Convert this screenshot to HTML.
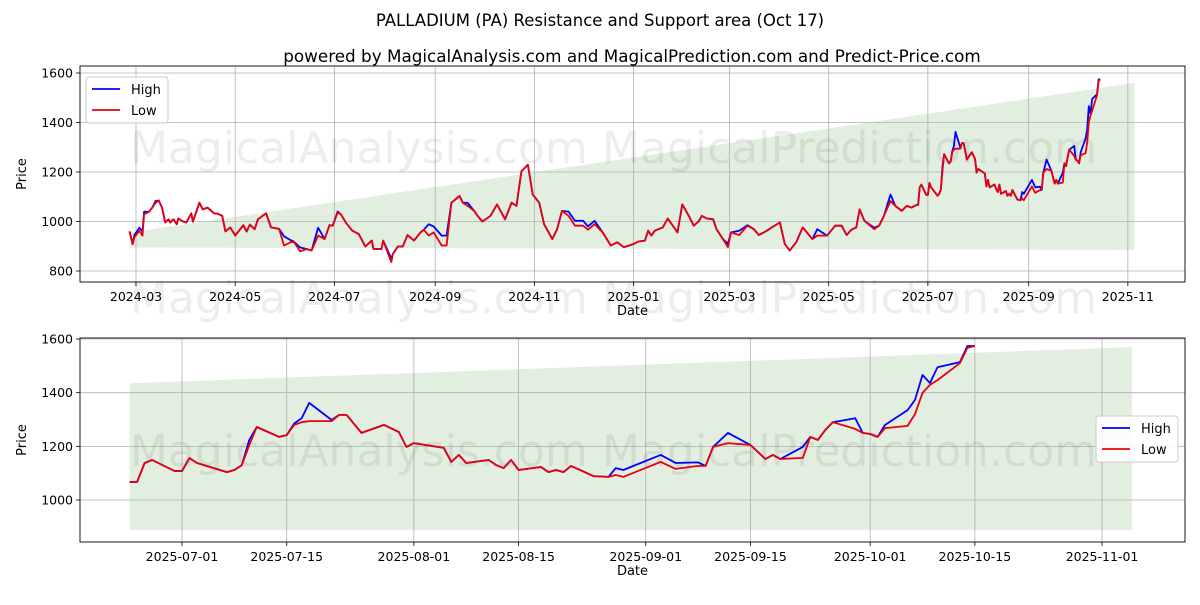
<!DOCTYPE html>
<html><head><meta charset="utf-8"><style>
body{margin:0;background:#fff;font-family:"Liberation Sans","DejaVu Sans",sans-serif}
svg text{font-family:"DejaVu Sans","Liberation Sans",sans-serif}
</style></head><body>
<svg id="c" width="1200" height="600" viewBox="0 0 1200 600" xmlns="http://www.w3.org/2000/svg"></svg>
<script>
const dates = ["2024-02-26","2024-02-28","2024-02-29","2024-03-03","2024-03-05","2024-03-06","2024-03-09","2024-03-11","2024-03-13","2024-03-15","2024-03-17","2024-03-19","2024-03-21","2024-03-22","2024-03-24","2024-03-26","2024-03-27","2024-03-30","2024-04-01","2024-04-04","2024-04-05","2024-04-09","2024-04-11","2024-04-14","2024-04-18","2024-04-20","2024-04-23","2024-04-25","2024-04-28","2024-05-01","2024-05-06","2024-05-08","2024-05-10","2024-05-13","2024-05-15","2024-05-20","2024-05-23","2024-05-28","2024-05-31","2024-06-04","2024-06-06","2024-06-10","2024-06-14","2024-06-17","2024-06-21","2024-06-25","2024-06-28","2024-06-30","2024-07-03","2024-07-05","2024-07-08","2024-07-12","2024-07-16","2024-07-20","2024-07-24","2024-07-25","2024-07-30","2024-07-31","2024-08-05","2024-08-06","2024-08-09","2024-08-12","2024-08-15","2024-08-19","2024-08-23","2024-08-25","2024-08-28","2024-08-31","2024-09-05","2024-09-08","2024-09-11","2024-09-16","2024-09-18","2024-09-21","2024-09-25","2024-09-27","2024-09-30","2024-10-02","2024-10-05","2024-10-09","2024-10-14","2024-10-18","2024-10-21","2024-10-24","2024-10-28","2024-10-31","2024-11-04","2024-11-07","2024-11-12","2024-11-15","2024-11-18","2024-11-22","2024-11-26","2024-12-01","2024-12-04","2024-12-08","2024-12-13","2024-12-18","2024-12-22","2024-12-26","2025-01-01","2025-01-04","2025-01-08","2025-01-10","2025-01-12","2025-01-14","2025-01-19","2025-01-22","2025-01-28","2025-01-31","2025-02-04","2025-02-07","2025-02-10","2025-02-12","2025-02-15","2025-02-19","2025-02-21","2025-02-25","2025-02-28","2025-03-02","2025-03-07","2025-03-12","2025-03-16","2025-03-19","2025-03-24","2025-03-27","2025-04-01","2025-04-04","2025-04-07","2025-04-11","2025-04-15","2025-04-21","2025-04-24","2025-04-30","2025-05-05","2025-05-09","2025-05-12","2025-05-15","2025-05-18","2025-05-20","2025-05-23","2025-05-29","2025-06-01","2025-06-04","2025-06-08","2025-06-11","2025-06-15","2025-06-18","2025-06-21","2025-06-24","2025-06-25","2025-06-26","2025-06-27","2025-06-30","2025-07-01","2025-07-02","2025-07-03","2025-07-07","2025-07-08","2025-07-09","2025-07-10","2025-07-11","2025-07-14","2025-07-15","2025-07-16","2025-07-17","2025-07-18","2025-07-21","2025-07-22","2025-07-23","2025-07-25","2025-07-28","2025-07-30","2025-07-31","2025-08-01","2025-08-05","2025-08-06","2025-08-07","2025-08-08","2025-08-11","2025-08-12","2025-08-13","2025-08-14","2025-08-15","2025-08-18","2025-08-19","2025-08-20","2025-08-21","2025-08-22","2025-08-25","2025-08-27","2025-08-28","2025-08-29","2025-09-03","2025-09-05","2025-09-08","2025-09-09","2025-09-10","2025-09-12","2025-09-15","2025-09-17","2025-09-18","2025-09-19","2025-09-22","2025-09-23","2025-09-24","2025-09-25","2025-09-26","2025-09-29","2025-09-30","2025-10-01","2025-10-02","2025-10-03","2025-10-06","2025-10-07","2025-10-08","2025-10-09","2025-10-10","2025-10-13","2025-10-14","2025-10-15"];
const lows = [960,909,936,963,943,1029,1039,1056,1075,1085,1056,996,1009,996,1009,989,1012,1000,996,1033,999,1076,1049,1056,1033,1032,1023,960,976,943,985,959,987,969,1009,1033,976,970,903,916,919,879,889,883,943,929,985,983,1036,1029,996,963,949,899,923,889,889,923,836,869,899,899,945,923,956,967,943,956,903,903,1076,1103,1076,1063,1043,1023,1000,1009,1023,1069,1009,1076,1063,1203,1229,1109,1076,989,929,969,1043,1023,983,983,967,989,956,903,916,896,909,919,923,963,943,963,976,1012,956,1069,1023,983,1000,1023,1012,1009,969,929,896,956,945,983,969,945,963,976,996,909,883,916,976,929,943,943,983,983,945,967,976,1049,1003,969,983,1023,1083,1063,1043,1063,1056,1067,1067,1138,1149,1108,1108,1156,1138,1104,1112,1130,1205,1272,1235,1242,1280,1290,1294,1294,1317,1317,1250,1280,1253,1198,1212,1194,1142,1168,1138,1149,1130,1119,1149,1112,1123,1104,1112,1104,1127,1089,1086,1093,1086,1142,1116,1127,1127,1198,1212,1205,1153,1168,1153,1157,1235,1224,1261,1290,1265,1250,1246,1235,1268,1276,1320,1399,1429,1447,1510,1567,1574];
const highs = [960,909,945,975,960,1040,1039,1056,1083,1085,1056,996,1009,996,1009,989,1012,1000,996,1033,999,1076,1049,1056,1033,1032,1023,960,976,943,985,959,987,969,1009,1033,976,970,940,925,919,895,889,883,975,929,985,983,1040,1029,996,963,949,899,923,889,889,923,850,869,899,899,945,923,956,967,989,980,943,943,1076,1103,1076,1075,1043,1023,1000,1009,1023,1069,1009,1076,1063,1203,1229,1109,1076,989,929,969,1043,1040,1003,1003,980,1003,956,903,916,896,909,919,923,963,943,963,976,1012,956,1069,1023,983,1000,1023,1012,1009,969,929,910,956,963,985,969,945,963,976,996,909,883,916,976,929,969,943,983,983,945,967,976,1049,1003,975,983,1023,1109,1063,1043,1063,1056,1067,1067,1138,1149,1108,1108,1156,1138,1104,1112,1130,1224,1272,1235,1242,1285,1305,1362,1298,1317,1317,1250,1280,1253,1198,1212,1194,1142,1168,1138,1149,1130,1119,1149,1112,1123,1104,1112,1104,1127,1089,1086,1119,1112,1168,1138,1140,1127,1198,1250,1205,1153,1168,1153,1198,1235,1224,1261,1290,1305,1250,1246,1235,1280,1335,1373,1466,1436,1495,1514,1574,1574];
const shadeDates = ["2024-02-26","2025-11-05"];
const shadeTop = [955,1560];
const shadeBottom = [895,885];
const botShadeDates = ["2025-06-24","2025-11-05"];
const botShadeTop = [1435,1570];
const botShadeBottom = [888,888];
const topYTicks = [800,1000,1200,1400,1600];
const topXTicks = ["2024-03","2024-05","2024-07","2024-09","2024-11","2025-01","2025-03","2025-05","2025-07","2025-09","2025-11"];
const botYTicks = [1000,1200,1400,1600];
const botXTicks = ["2025-07-01","2025-07-15","2025-08-01","2025-08-15","2025-09-01","2025-09-15","2025-10-01","2025-10-15","2025-11-01"];
const botStart = "2025-06-24";

const NS="http://www.w3.org/2000/svg";
const svg=document.getElementById('c');
function el(tag,attrs,parent){const e=document.createElementNS(NS,tag);for(const k in attrs)e.setAttribute(k,attrs[k]);(parent||svg).appendChild(e);return e;}
function day(s){if(s.length===7)s+="-01";return Date.UTC(+s.slice(0,4),+s.slice(5,7)-1,+s.slice(8,10))/864e5;}

function panel(cfg){
  const g=el('g',{});
  
  
  const X=d=>cfg.x0+(day(d)-day(cfg.ref))*cfg.kx;
  const Y=p=>cfg.y0+(cfg.pref-p)*cfg.ky;
  const cid='clip'+cfg.name;
  const cp=el('clipPath',{id:cid},g);el('rect',{x:cfg.L,y:cfg.T,width:cfg.R-cfg.L,height:cfg.B-cfg.T},cp);
  const x1=X(cfg.sd[0]),x2=X(cfg.sd[1]);
  const sh=el('polygon',{points:`${x1},${Y(cfg.st[0])} ${x2},${Y(cfg.st[1])} ${x2},${Y(cfg.sb[1])} ${x1},${Y(cfg.sb[0])}`,fill:'#e2eee0','clip-path':`url(#${cid})`},g);
  
  
  cfg.yt.forEach(v=>{const y=Y(v);
    el('line',{x1:cfg.L,x2:cfg.R,y1:y,y2:y,stroke:'#b0b0b0','stroke-width':0.8},g);
    el('line',{x1:cfg.L-4,x2:cfg.L,y1:y,y2:y,stroke:'#000','stroke-width':0.8},g);
    const t=el('text',{x:cfg.L-7,y:y+4.5,'text-anchor':'end','font-size':12.5},g);t.textContent=v;
    
    });
  cfg.xt.forEach(d=>{const x=X(d);
    el('line',{x1:x,x2:x,y1:cfg.T,y2:cfg.B,stroke:'#b0b0b0','stroke-width':0.8},g);
    el('line',{x1:x,x2:x,y1:cfg.B,y2:cfg.B+4,stroke:'#000','stroke-width':0.8},g);
    const t=el('text',{x:x,y:cfg.B+19,'text-anchor':'middle','font-size':12.5},g);t.textContent=d;
    
    });
  cfg.wm.forEach(w=>{const t=el('text',{x:w[0],y:w[1],'font-size':44,fill:'#000','fill-opacity':0.07},g);t.textContent=w[2];
    
    });
  const idx=dates.map((d,i)=>i).filter(i=>day(dates[i])>=day(cfg.start));
  [[highs,'#0000ff','high-line'],[lows,'#e8000b','low-line']].forEach(s=>{
    const p=el('polyline',{points:idx.map(i=>X(dates[i]).toFixed(1)+','+Y(s[0][i]).toFixed(1)).join(' '),fill:'none',stroke:s[1],'stroke-width':1.8,'stroke-linejoin':'round','clip-path':`url(#${cid})`},g);
    
    });
  el('rect',{x:cfg.L,y:cfg.T,width:cfg.R-cfg.L,height:cfg.B-cfg.T,fill:'none',stroke:'#000','stroke-width':0.9},g);
  const xl=el('text',{x:(cfg.L+cfg.R)/2,y:cfg.B+33,'text-anchor':'middle','font-size':13},g);xl.textContent='Date';
  
  
  const yl=el('text',{x:26,y:(cfg.T+cfg.B)/2,'text-anchor':'middle','font-size':13,transform:`rotate(-90 26 ${(cfg.T+cfg.B)/2})`},g);yl.textContent='Price';
  
  
  const lg=el('g',{},g);
  
  
  el('rect',{x:cfg.lx,y:cfg.ly,width:82,height:46,rx:3,fill:'#fff','fill-opacity':0.85,stroke:'#ccc'},lg);
  [['High','#0000ff'],['Low','#e8000b']].forEach((s,i)=>{const yy=cfg.ly+12+i*21;
    el('line',{x1:cfg.lx+6,x2:cfg.lx+34,y1:yy,y2:yy,stroke:s[1],'stroke-width':1.8},lg);
    const t=el('text',{x:cfg.lx+45,y:yy+5,'font-size':13},lg);t.textContent=s[0];
    
    });
}
const t1=el('text',{x:600,y:26,'text-anchor':'middle','font-size':16.5});t1.textContent='PALLADIUM (PA) Resistance and Support area (Oct 17)';


const t2=el('text',{x:632,y:62,'text-anchor':'middle','font-size':16.8});t2.textContent='powered by MagicalAnalysis.com and MagicalPrediction.com and Predict-Price.com';


panel({name:'top-panel',L:80,R:1185,T:66,B:282,x0:136,ref:'2024-03-01',kx:1.626,y0:73,pref:1600,ky:0.2475,yt:topYTicks,xt:topXTicks,start:'2024-01-01',lx:86,ly:77,
  sd:shadeDates,st:shadeTop,sb:shadeBottom,
  wm:[[130,163,'MagicalAnalysis.com'],[602,163,'MagicalPrediction.com'],[130,313,'MagicalAnalysis.com'],[602,313,'MagicalPrediction.com']]});
panel({name:'bottom-panel',L:80,R:1185,T:338,B:542,x0:182,ref:'2025-07-01',kx:7.48,y0:500,pref:1000,ky:0.2683,yt:botYTicks,xt:botXTicks,start:botStart,lx:1096,ly:416,
  sd:botShadeDates,st:botShadeTop,sb:botShadeBottom,
  wm:[[130,466,'MagicalAnalysis.com'],[602,466,'MagicalPrediction.com']]});
</script>
</body></html>
